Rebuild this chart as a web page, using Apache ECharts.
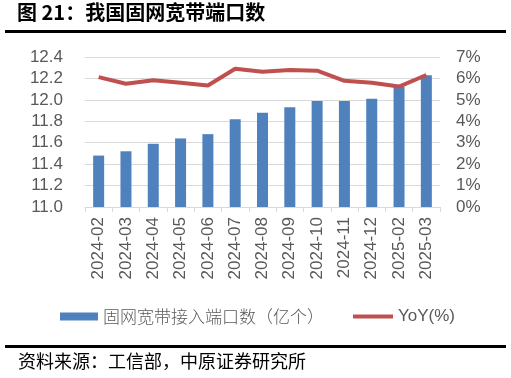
<!DOCTYPE html>
<html><head><meta charset="utf-8">
<script src="https://cdn.jsdelivr.net/npm/echarts@6/dist/echarts.min.js"></script>
<style>html,body{margin:0;padding:0;background:#fff}#c{width:511px;height:378px}</style>
</head><body><div id="c"></div>
<script>
const categories = ['2024-02','2024-03','2024-04','2024-05','2024-06','2024-07','2024-08','2024-09','2024-10','2024-11','2024-12','2025-02','2025-03'];
const ports = [11.48, 11.52, 11.59, 11.64, 11.68, 11.82, 11.88, 11.93, 11.99, 11.99, 12.01, 12.12, 12.23];
const yoy = [6.06, 5.75, 5.92, 5.80, 5.67, 6.45, 6.31, 6.39, 6.36, 5.89, 5.80, 5.62, 6.16];
const barName = '固网宽带接入端口数（亿个）';
const lineName = 'YoY(%)';
const titleText = '图 21：我国固网宽带端口数';
const sourceText = '资料来源：工信部，中原证券研究所';

const FONT = '"Liberation Sans", Arial, "Noto Sans CJK SC", sans-serif';
const grey = '#595959';
const chart = echarts.init(document.getElementById('c'), null, {renderer: 'canvas'});
chart.setOption({
  animation: false,
  textStyle: {fontFamily: FONT},
  grid: {left: 85, right: 71, top: 57, bottom: 171},
  legend: [
    {data: [barName], left: 55, top: 303, itemWidth: 38, itemHeight: 8, icon: 'rect',
     textStyle: {fontSize: 17, color: grey, fontFamily: '"Noto Sans CJK SC", sans-serif', fontWeight: 300}},
    {data: [lineName], left: 348, top: 303, itemWidth: 40, itemHeight: 4, icon: 'rect',
     textStyle: {fontSize: 17, color: grey, fontFamily: FONT}}
  ],
  xAxis: {
    type: 'category', data: categories, boundaryGap: true,
    axisLine: {lineStyle: {color: '#d9d9d9', width: 1}},
    axisTick: {show: true, alignWithLabel: false, length: 5, lineStyle: {color: '#d9d9d9'}},
    axisLabel: {rotate: 90, fontSize: 17, color: grey, margin: 10, interval: 0}
  },
  yAxis: [
    {type: 'value', min: 11, max: 12.4, interval: 0.2,
     axisLine: {show: false}, axisTick: {show: false},
     splitLine: {lineStyle: {color: '#d9d9d9', width: 1}},
     axisLabel: {fontSize: 17, color: grey, margin: 22, formatter: v => v.toFixed(1)}},
    {type: 'value', min: 0, max: 7, interval: 1,
     axisLine: {show: false}, axisTick: {show: false}, splitLine: {show: false},
     axisLabel: {fontSize: 17, color: grey, margin: 16, formatter: '{value}%'}}
  ],
  series: [
    {name: barName, type: 'bar', data: ports, barWidth: 11,
     itemStyle: {color: '#4F81BD'}},
    {name: lineName, type: 'line', yAxisIndex: 1, data: yoy, symbol: 'none',
     lineStyle: {color: '#C0504D', width: 4}, itemStyle: {color: '#C0504D'}}
  ],
  graphic: [
    {type: 'text', left: 17, top: 2, style: {text: titleText, fontSize: 20, fontWeight: 'bold',
      fill: '#000', fontFamily: '"Noto Sans CJK SC", sans-serif'}},
    {type: 'rect', shape: {x: 5, y: 30, width: 501, height: 3}, style: {fill: '#000'}},
    {type: 'rect', shape: {x: 5, y: 345, width: 501, height: 3}, style: {fill: '#000'}},
    {type: 'text', left: 18, top: 352, style: {text: sourceText, fontSize: 18,
      fill: '#000', fontFamily: '"Noto Sans CJK SC", sans-serif'}}
  ]
});
</script></body></html>
